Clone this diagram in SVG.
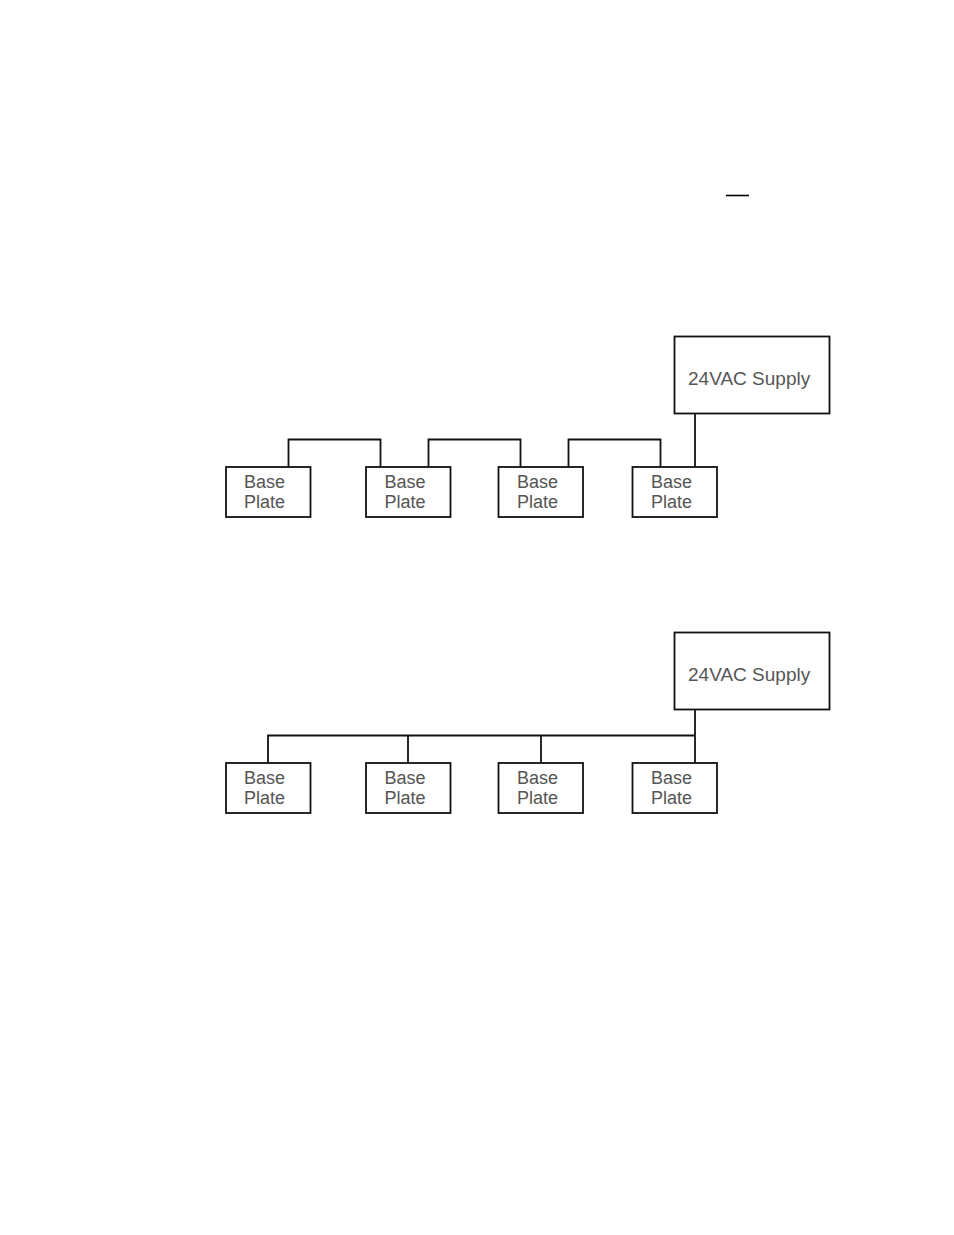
<svg xmlns="http://www.w3.org/2000/svg" width="954" height="1235" viewBox="0 0 954 1235">
<style>
.box{fill:#fff;stroke:#111;stroke-width:1.8}
.wire{fill:none;stroke:#111;stroke-width:1.8}
text{font-family:"Liberation Sans",Arial,sans-serif;font-size:18px;fill:#555}
.sup{font-size:19px}
</style>
<rect width="954" height="1235" fill="#fff"/>
<line x1="726" y1="195.500" x2="749" y2="195.500" stroke="#000" stroke-width="1.600"/>
<g id="connectors" class="wire">
<path d="M288.500 467V439.500H380.500V467"/>
<path d="M428.500 467V439.500H520.500V467"/>
<path d="M568.500 467V439.500H660.500V467"/>
<path d="M695 413V467"/>
<path d="M695 709V763"/>
<path d="M268 763V735.500H695"/>
<path d="M408 735.500V763"/>
<path d="M541 735.500V763"/>
</g>
<g id="supply1"><rect class="box" x="674.500" y="336.500" width="155" height="77"/><text class="sup" x="688" y="385">24VAC Supply</text></g>
<g id="plate1a"><rect class="box" x="226" y="467" width="84.500" height="50"/><text x="244" y="487.500">Base</text><text x="244" y="507.500">Plate</text></g>
<g id="plate1b"><rect class="box" x="366" y="467" width="84.500" height="50"/><text x="384.500" y="487.500">Base</text><text x="384.500" y="507.500">Plate</text></g>
<g id="plate1c"><rect class="box" x="498.500" y="467" width="84.500" height="50"/><text x="517" y="487.500">Base</text><text x="517" y="507.500">Plate</text></g>
<g id="plate1d"><rect class="box" x="632.500" y="467" width="84.500" height="50"/><text x="651" y="487.500">Base</text><text x="651" y="507.500">Plate</text></g>
<g id="supply2"><rect class="box" x="674.500" y="632.500" width="155" height="77"/><text class="sup" x="688" y="681">24VAC Supply</text></g>
<g id="plate2a"><rect class="box" x="226" y="763" width="84.500" height="50"/><text x="244" y="783.500">Base</text><text x="244" y="803.500">Plate</text></g>
<g id="plate2b"><rect class="box" x="366" y="763" width="84.500" height="50"/><text x="384.500" y="783.500">Base</text><text x="384.500" y="803.500">Plate</text></g>
<g id="plate2c"><rect class="box" x="498.500" y="763" width="84.500" height="50"/><text x="517" y="783.500">Base</text><text x="517" y="803.500">Plate</text></g>
<g id="plate2d"><rect class="box" x="632.500" y="763" width="84.500" height="50"/><text x="651" y="783.500">Base</text><text x="651" y="803.500">Plate</text></g>
</svg>
